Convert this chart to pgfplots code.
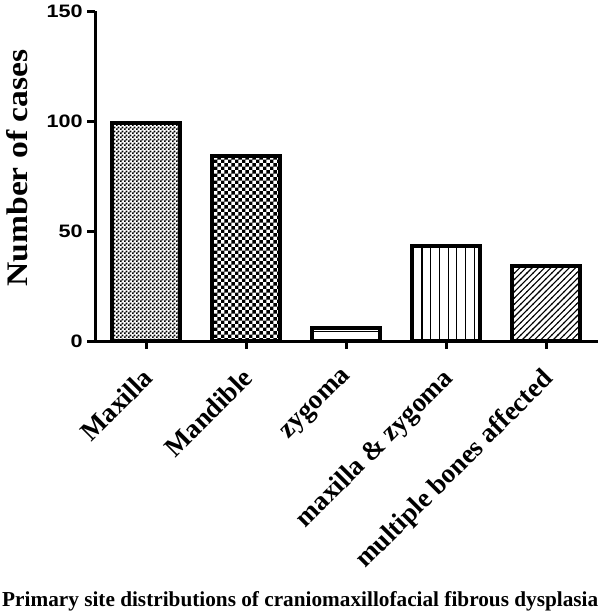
\documentclass[border=0pt]{standalone}
\usepackage{pgfplots}
\pgfplotsset{compat=1.18}
\usetikzlibrary{patterns}
\usepackage{fontspec}
\setmainfont{Liberation Serif}
\newfontfamily\arialfont{Liberation Sans}

% fill patterns of the five bars
\pgfdeclarepatternformonly{finecheck}{\pgfpointorigin}{\pgfqpoint{4pt}{4pt}}{\pgfqpoint{4pt}{4pt}}{
  \pgfpathrectangle{\pgfpointorigin}{\pgfqpoint{2.1pt}{2.1pt}}
  \pgfpathrectangle{\pgfqpoint{2pt}{2pt}}{\pgfqpoint{2.1pt}{2.1pt}}
  \pgfusepath{fill}
}
\pgfdeclarepatternformonly{bigcheck}{\pgfpointorigin}{\pgfqpoint{6.9pt}{6.9pt}}{\pgfqpoint{6.9pt}{6.9pt}}{
  \pgfpathrectangle{\pgfpointorigin}{\pgfqpoint{3.5pt}{3.5pt}}
  \pgfpathrectangle{\pgfqpoint{3.45pt}{3.45pt}}{\pgfqpoint{3.5pt}{3.5pt}}
  \pgfusepath{fill}
}
\pgfdeclarepatternformonly{hstripes}{\pgfqpoint{-1pt}{-1pt}}{\pgfqpoint{9.7pt}{9.7pt}}{\pgfqpoint{8.7pt}{8.7pt}}{
  \pgfsetlinewidth{1.1pt}
  \pgfpathmoveto{\pgfqpoint{-1pt}{4.35pt}}
  \pgfpathlineto{\pgfqpoint{9.7pt}{4.35pt}}
  \pgfusepath{stroke}
}
\pgfdeclarepatternformonly{vstripes}{\pgfqpoint{-1pt}{-1pt}}{\pgfqpoint{9.7pt}{9.7pt}}{\pgfqpoint{8.7pt}{8.7pt}}{
  \pgfsetlinewidth{1.1pt}
  \pgfpathmoveto{\pgfqpoint{4.35pt}{-1pt}}
  \pgfpathlineto{\pgfqpoint{4.35pt}{9.7pt}}
  \pgfusepath{stroke}
}
\pgfdeclarepatternformonly{nestripes}{\pgfqpoint{-1pt}{-1pt}}{\pgfqpoint{7.2pt}{7.2pt}}{\pgfqpoint{6.2pt}{6.2pt}}{
  \pgfsetlinewidth{1.1pt}
  \pgfpathmoveto{\pgfqpoint{-0.5pt}{-0.5pt}}
  \pgfpathlineto{\pgfqpoint{6.7pt}{6.7pt}}
  \pgfusepath{stroke}
}

\begin{document}
\begin{tikzpicture}
\path[use as bounding box] (0,0) rectangle (600pt,-614pt);
\begin{axis}[
  at={(95pt,-341pt)}, anchor=south west,
  scale only axis,
  width=503pt, height=330pt,
  axis x line*=bottom, axis y line*=left,
  axis line style={line width=3pt, -},
  xmin=-0.51, xmax=4.52,
  ymin=0, ymax=150,
  ytick={0,50,100,150},
  xtick={0,1,2,3,4},
  xticklabels={Maxilla, Mandible, zygoma, maxilla \& zygoma, multiple bones affected},
  tick align=outside,
  major tick length=8pt,
  tick style={line width=3pt, black},
  /pgf/number format/assume math mode=true,
  yticklabel style={font=\arialfont\bfseries\fontsize{18}{18}\selectfont, xscale=1.2},
  xticklabel style={font=\bfseries\fontsize{27}{27}\selectfont, xshift=-5pt, yshift=-16pt, rotate=45, anchor=north east, inner sep=1pt},
  ylabel={\resizebox{237pt}{21pt}{\bfseries Number of cases}},
  ylabel style={at={(axis description cs:-0.155,0.524)}, anchor=center, rotate=0},
  xlabel={\resizebox{596pt}{15pt}{\bfseries Primary site distributions of craniomaxillofacial fibrous dysplasia}},
  xlabel style={at={(axis description cs:0.408,-0.79)}, anchor=center},
  bar/.style={ybar, bar width=68pt, bar shift=0pt, draw=black, line width=4pt},
]
\addplot[bar, pattern=finecheck] coordinates {(0,99)};
\addplot[bar, pattern=bigcheck] coordinates {(1,84)};
\addplot[bar, pattern=hstripes] coordinates {(2,6)};
\addplot[bar, pattern=vstripes] coordinates {(3,43)};
\addplot[bar, pattern=nestripes] coordinates {(4,34)};
\end{axis}
\end{tikzpicture}
\end{document}
